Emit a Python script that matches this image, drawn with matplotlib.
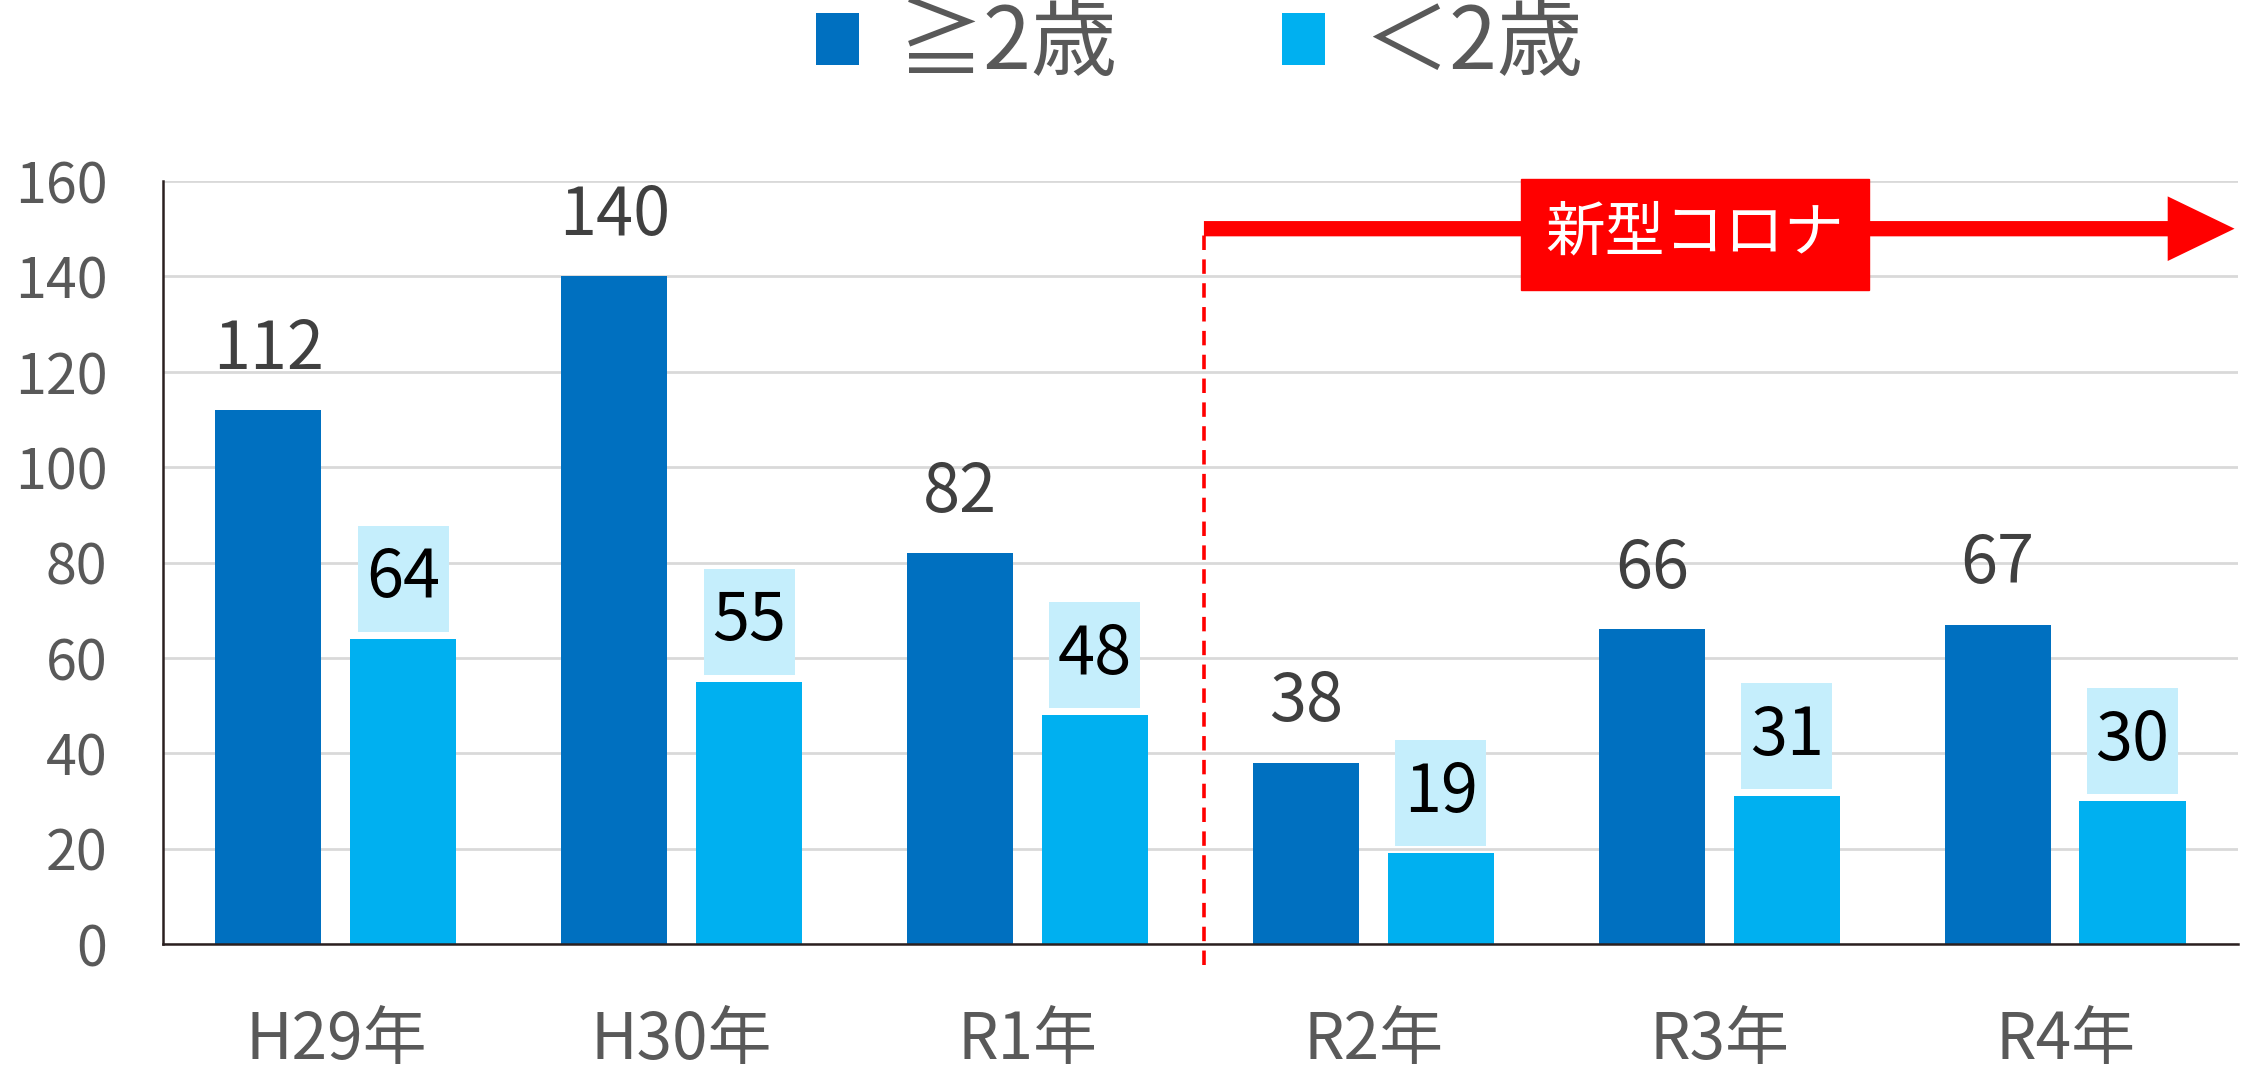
import numpy as np
import matplotlib
matplotlib.use('Agg')
import matplotlib.pyplot as plt
from matplotlib.patches import Patch

plt.rcParams['font.family'] = ['Noto Sans CJK JP', 'DejaVu Sans']

# dados
anos = ['H29年', 'H30年', 'R1年', 'R2年', 'R3年', 'R4年']
acima2 = [112, 140, 82, 38, 66, 67]
abaixo2 = [64, 55, 48, 19, 31, 30]
nome_acima = '≧2歳'
nome_abaixo = '＜2歳'
yticks = [0, 20, 40, 60, 80, 100, 120, 140, 160]

cor_escuro = '#0070C0'
cor_claro = '#00B0F0'
cor_caixa = '#C5EEFC'

fig = plt.figure(figsize=(22.47, 10.73), dpi=100)
ax = fig.add_axes([0.0725, 0.1202, 0.9235, 0.7111])

x = np.arange(len(anos))
w = 0.307
off = 0.195

ax.bar(x - off, acima2, width=w, color=cor_escuro, zorder=3)
ax.bar(x + off, abaixo2, width=w, color=cor_claro, zorder=3)

# rótulos da série >=2
for xi, v in zip(x, acima2):
    ax.text(xi - off, v + 12.6, str(v), ha='center', va='center',
            fontsize=48, color='#404040', zorder=5)

# rótulos da série <2 com caixa azul clara
caixa_h = 22.2
caixa_gap = 1.5
ax.bar(x + off, [caixa_h] * len(x), width=0.263,
       bottom=[v + caixa_gap for v in abaixo2], color=cor_caixa, zorder=3)
for xi, v in zip(x, abaixo2):
    ax.text(xi + off, v + caixa_gap + caixa_h / 2, str(v), ha='center', va='center',
            fontsize=48, color='black', zorder=5)

ax.set_xlim(-0.5, len(anos) - 0.5)
ax.set_ylim(0, 160)
ax.set_yticks(yticks)
ax.set_xticks(x)
ax.set_xticklabels(anos)
ax.tick_params(axis='y', length=0, pad=40, labelsize=40, labelcolor='#595959')
ax.tick_params(axis='x', length=0, pad=46, labelsize=46, labelcolor='#595959')
ax.grid(axis='y', color='#D9D9D9', linewidth=2, zorder=0)
ax.set_axisbelow(True)
for s in ['top', 'right']:
    ax.spines[s].set_visible(False)
for s in ['left', 'bottom']:
    ax.spines[s].set_color('#2b2020')
    ax.spines[s].set_linewidth(1.8)
    ax.spines[s].set_zorder(4)

# marcação do período da COVID
ax.plot([2.51, 2.51], [-4.4, 150], color='red', linestyle=(0, (4, 2.6)),
        linewidth=2.6, clip_on=False, zorder=4)
ax.annotate('', xy=(5.49, 150), xytext=(2.51, 150),
            arrowprops=dict(arrowstyle='-|>,head_length=3.0,head_width=1.45',
                            mutation_scale=10, color='red', lw=11,
                            shrinkA=0, shrinkB=0, capstyle='butt',
                            joinstyle='miter'),
            zorder=5, annotation_clip=False)
ax.text(3.93, 148.8, '新型コロナ', ha='center', va='center', fontsize=43,
        color='white', zorder=6,
        bbox=dict(boxstyle='square,pad=0.42', facecolor='red', edgecolor='red'))

# legenda
handles = [Patch(facecolor=cor_escuro, label=nome_acima),
           Patch(facecolor=cor_claro, label=nome_abaixo)]
leg = fig.legend(handles=handles, loc='center', bbox_to_anchor=(0.534, 0.958),
                 ncol=2, frameon=False, fontsize=62, handlelength=0.5,
                 handleheight=0.55, handletextpad=0.45, columnspacing=1.9)
for t in leg.get_texts():
    t.set_color('#595959')

fig.savefig('out.png', dpi=100, facecolor='white')
